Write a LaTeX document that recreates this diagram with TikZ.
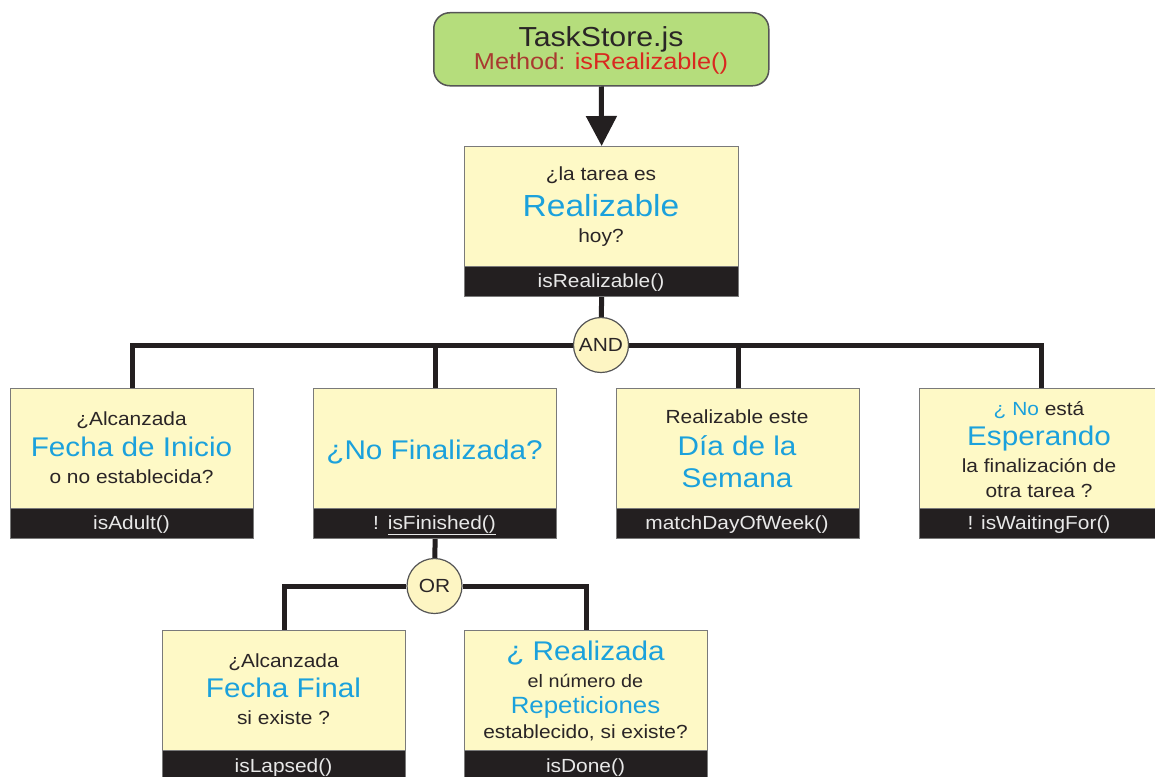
\documentclass[tikz,border=0pt]{standalone}
\usepackage{fontspec}
\setmainfont{Liberation Sans}[FakeStretch=1.1]
\usetikzlibrary{arrows.meta,backgrounds}
\definecolor{boxfill}{HTML}{FEF9C6}
\definecolor{boxline}{HTML}{7A7A7A}
\definecolor{topfill}{HTML}{B5DD7C}
\definecolor{topline}{HTML}{555555}
\definecolor{cyantxt}{HTML}{1BA1DC}
\definecolor{darktxt}{HTML}{2A2526}
\definecolor{barfill}{HTML}{231F20}
\definecolor{bartxt}{HTML}{E8E8E8}
\definecolor{methred}{HTML}{A93A30}
\definecolor{namered}{HTML}{D9281F}
\definecolor{gatefill}{HTML}{FDF5C3}
\begin{document}
\begin{tikzpicture}[x=1pt,y=-1pt,
  qbox/.style={draw=boxline, line width=1.2pt, fill=boxfill, inner sep=0pt, anchor=north west, minimum width=243pt, minimum height=150pt},
  barbox/.style={draw=boxline, line width=1.2pt, fill=barfill, inner sep=0pt, anchor=south west, minimum width=243pt, minimum height=30pt},
  sm/.style={text=darktxt, font=\fontsize{19}{22}\selectfont, anchor=base, inner sep=0pt},
  big/.style={text=cyantxt, font=\fontsize{27}{30}\selectfont, anchor=base, inner sep=0pt},
  bartext/.style={text=bartxt, font=\fontsize{19}{22}\selectfont, anchor=base, inner sep=0pt},
  gate/.style={circle, draw=topline, line width=1.2pt, fill=gatefill, minimum size=55pt, inner sep=0pt, text=darktxt, font=\fontsize{19}{22}\selectfont},
  conn/.style={line width=5pt, draw=barfill}
]
\clip (0,0) rectangle (1155,776);

% top box
\node[draw=topline, line width=1.5pt, fill=topfill, rounded corners=16pt, anchor=north west, minimum width=335pt, minimum height=73pt, inner sep=0pt] (top) at (433,12) {};
\node[text=darktxt, font=\fontsize{27.5}{30}\selectfont, anchor=base, inner sep=0pt] (toptitle) at (601,47) {TaskStore.js};
\node[font=\fontsize{23}{26}\selectfont, anchor=base, inner sep=0pt] (topmethod) at (601,70) {\textcolor{methred}{Method:} \textcolor{namered}{isRealizable()}};

% main box
\node[qbox, minimum width=274pt] (main) at (464,146) {};
\node[barbox, minimum width=274pt] (mainbar) at (main.south west) {};
\node[sm] (mt1) at (601,180) {¿la tarea es};
\node[big, font=\fontsize{30.5}{34}\selectfont] (mt2) at (601,216) {Realizable};
\node[sm] (mt3) at (601,242) {hoy?};
\node[bartext] (mtb) at (601,287) {isRealizable()};

% level 2 boxes
\node[qbox] (b1) at (10,388) {};
\node[barbox] (b1bar) at (b1.south west) {};
\node[sm] (b1t1) at (131.5,425) {¿Alcanzada};
\node[big] (b1t2) at (131.5,456) {Fecha de Inicio};
\node[sm] (b1t3) at (131.5,483) {o no establecida?};
\node[bartext] (b1tb) at (131.5,529) {isAdult()};

\node[qbox] (b2) at (313,388) {};
\node[barbox] (b2bar) at (b2.south west) {};
\node[big] (b2t1) at (434.5,459) {¿No Finalizada?};
\node[bartext] (b2tb) at (434.5,529) {!\hspace{9pt}\underline{isFinished()}};

\node[qbox] (b3) at (616,388) {};
\node[barbox] (b3bar) at (b3.south west) {};
\node[sm] (b3t1) at (737,423) {Realizable este};
\node[big] (b3t2) at (737,455) {Día de la};
\node[big] (b3t3) at (737,487) {Semana};
\node[bartext] (b3tb) at (737,529) {matchDayOfWeek()};

\node[qbox] (b4) at (919,388) {};
\node[barbox] (b4bar) at (b4.south west) {};
\node[sm] (b4t1) at (1039,415) {\textcolor{cyantxt}{¿ No} está};
\node[big] (b4t2) at (1039,445) {Esperando};
\node[sm] (b4t3) at (1039,472) {la finalización de};
\node[sm] (b4t4) at (1039,497) {otra tarea ?};
\node[bartext] (b4tb) at (1039,529) {! isWaitingFor()};

% level 3 boxes
\node[qbox, minimum height=160pt] (b5) at (162,630) {};
\node[barbox, minimum height=40pt] (b5bar) at (b5.south west) {};
\node[sm] (b5t1) at (283.5,667) {¿Alcanzada};
\node[big] (b5t2) at (283.5,697) {Fecha Final};
\node[sm] (b5t3) at (283.5,724) {si existe ?};
\node[bartext] (b5tb) at (283.5,772) {isLapsed()};

\node[qbox, minimum height=160pt] (b6) at (464,630) {};
\node[barbox, minimum height=40pt] (b6bar) at (b6.south west) {};
\node[big] (b6t1) at (585.5,660) {¿ Realizada};
\node[sm, font=\fontsize{18}{21}\selectfont] (b6t2) at (585.5,687) {el número de};
\node[big, font=\fontsize{23.5}{26}\selectfont] (b6t3) at (585.5,713) {Repeticiones};
\node[sm] (b6t4) at (585.5,738) {establecido, si existe?};
\node[bartext] (b6tb) at (585.5,772) {isDone()};

% gates
\node[gate] (AND) at (601,345) {AND};
\node[gate] (OR) at (434.5,586) {OR};

% connectors
\begin{pgfonlayer}{background}
\fill[white] (0,0) rectangle (1155,776);
\draw[conn] (main.south) -- (AND);
\draw[conn] (AND) -| (b1.north);
\draw[conn] (AND) -| (b2.north);
\draw[conn] (AND) -| (b3.north);
\draw[conn] (AND) -| (b4.north);
\draw[conn] (b2.south) -- (OR);
\draw[conn] (OR) -| (b5.north);
\draw[conn] (OR) -| (b6.north);
\end{pgfonlayer}
\draw[conn, -{Triangle[width=30pt,length=30pt]}] (top.south) -- (main.north);
\end{tikzpicture}
\end{document}
